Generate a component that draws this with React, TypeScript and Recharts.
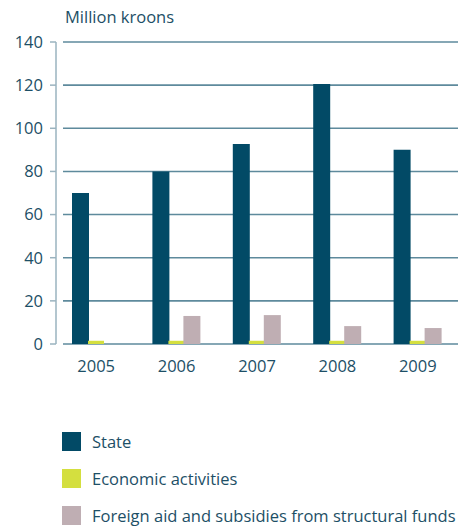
import React from 'react';
import { BarChart, Bar, XAxis, YAxis, CartesianGrid } from 'recharts';

const years = ['2005', '2006', '2007', '2008', '2009'];
const stateValues = [70, 80, 92.7, 120.5, 90];
const economicValues = [1.5, 1.5, 1.5, 1.5, 1.5];
const foreignValues = [0, 13, 13.4, 8.3, 7.4];
const yTicks = [0, 20, 40, 60, 80, 100, 120, 140];

const seriesNames = ['State', 'Economic activities', 'Foreign aid and subsidies from structural funds'];
const seriesColors = ['#024A66', '#D4DF3F', '#BFAEB3'];

const data = years.map((year, i) => ({
    year,
    state: stateValues[i],
    economic: economicValues[i],
    foreign: foreignValues[i],
}));

const textColor = '#1D4F66';
const font = '"Open Sans", sans-serif';
const fontSize = 16.5;

const GridLine = (props: any) => {
    const { x1, x2, y1, y2 } = props;
    return <line x1={x1 + 7} x2={x2} y1={y1} y2={y2} stroke="#5E8A9C" strokeWidth={1.6} />;
};

export default function App() {
    return (
        <div style={{ position: 'absolute', left: 0, top: 0, width: 459, height: 526, background: '#fff', overflow: 'hidden' }}>
            <div style={{ position: 'absolute', left: 65, top: 7, fontFamily: font, fontSize, color: textColor, lineHeight: '20px' }}>
                Million kroons
            </div>
            <BarChart
                width={459}
                height={526}
                data={data}
                margin={{ top: 42, right: 1, left: 0, bottom: 142 }}
                barGap={-1}
                barCategoryGap={16}
            >
                <CartesianGrid vertical={false} horizontal={<GridLine />} />
                <XAxis
                    dataKey="year"
                    axisLine={false}
                    tickLine={false}
                    tickMargin={10}
                    height={40}
                    tick={{ fill: textColor, fontSize, fontFamily: font }}
                />
                <YAxis
                    domain={[0, 140]}
                    ticks={yTicks}
                    width={56}
                    tickSize={6}
                    tickMargin={7}
                    axisLine={{ stroke: '#9AB3BF', strokeWidth: 1.5 }}
                    tickLine={{ stroke: '#9AB3BF', strokeWidth: 1.5 }}
                    tick={{ fill: textColor, fontSize, fontFamily: font }}
                    interval={0}
                />
                <Bar dataKey="state" fill={seriesColors[0]} barSize={17} isAnimationActive={false} />
                <Bar dataKey="economic" fill={seriesColors[1]} barSize={16} isAnimationActive={false} />
                <Bar dataKey="foreign" fill={seriesColors[2]} barSize={17} isAnimationActive={false} />
            </BarChart>
            <div style={{ position: 'absolute', left: 62, top: 423, fontFamily: font }}>
                {seriesNames.map((name, i) => (
                    <div key={name} style={{ display: 'flex', alignItems: 'center', height: 37 }}>
                        <div style={{ width: 19, height: 19, background: seriesColors[i], marginRight: 11 }} />
                        <span style={{ fontSize, color: textColor, whiteSpace: 'nowrap' }}>{name}</span>
                    </div>
                ))}
            </div>
        </div>
    );
}
